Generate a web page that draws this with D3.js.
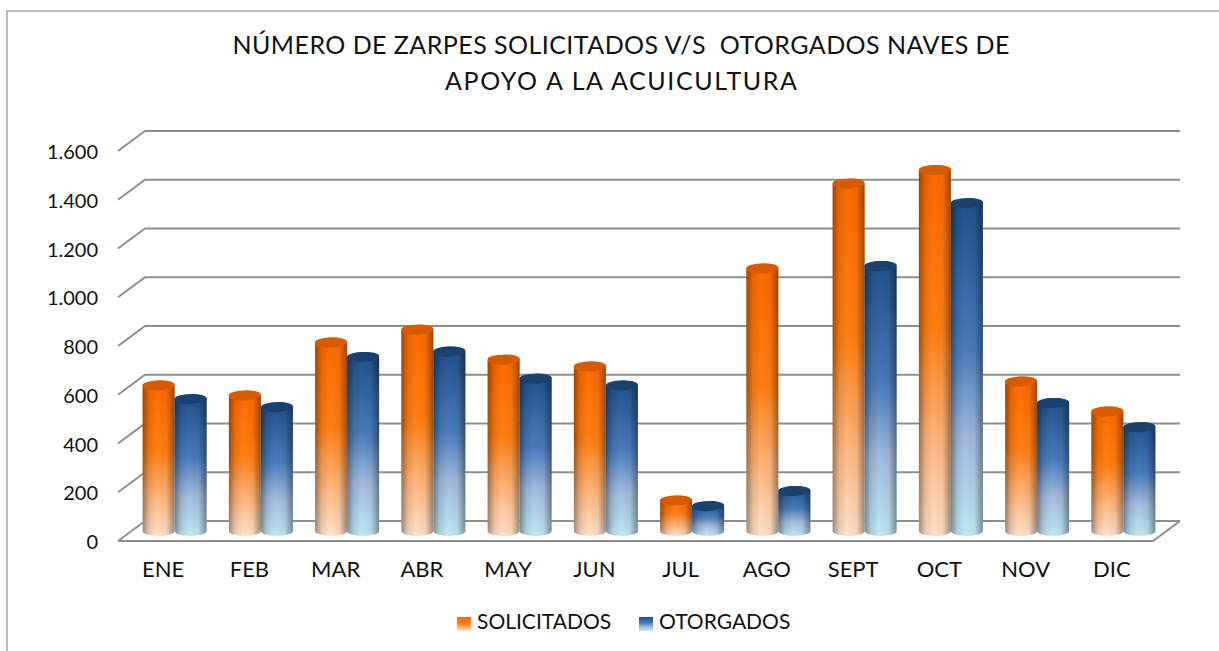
<!DOCTYPE html>
<meta charset="utf-8">
<script src="https://d3js.org/d3.v7.min.js"></script>
<style>
  html, body { margin: 0; padding: 0; background: #fff; }
  text { font-family: Lato, sans-serif; fill: #111; }
</style>
<div id="my_dataviz"></div>
<script>
  // values
  var months = ["ENE", "FEB", "MAR", "ABR", "MAY", "JUN", "JUL", "AGO", "SEPT", "OCT", "NOV", "DIC"];
  var solicitados = [597, 556, 773, 826, 703, 675, 125, 1077, 1425, 1481, 613, 490];
  var otorgados = [541, 508, 714, 736, 625, 597, 102, 164, 1087, 1345, 525, 426];
  var ticks = [0, 200, 400, 600, 800, 1000, 1200, 1400, 1600];
  var titleLines = ["NÚMERO DE ZARPES SOLICITADOS V/S  OTORGADOS NAVES DE", "APOYO A LA ACUICULTURA"];
  var titleWidths = [777, 352];
  var seriesNames = ["SOLICITADOS", "OTORGADOS"];

  var width = 1219, height = 651;
  var depthX = 27, depthY = 20;   // offset of the back wall from the front of the floor

  var svg = d3.select("#my_dataviz").append("svg")
      .attr("width", width)
      .attr("height", height)
      .style("display", "block");

  var defs = svg.append("defs");

  function vertical(id, stops) {
    var g = defs.append("linearGradient").attr("id", id)
        .attr("x1", 0).attr("y1", 0).attr("x2", 0).attr("y2", 1);
    stops.forEach(function(s) {
      g.append("stop").attr("offset", s[0]).attr("stop-color", s[1]);
    });
  }
  vertical("grad0", [[0, "#ff6a00"], [0.45, "#ff7f14"], [0.75, "#ffb77e"], [1, "#ffe2cb"]]);
  vertical("grad1", [[0, "#1f4f87"], [0.45, "#4a7dbd"], [0.72, "#a5bcdf"], [1, "#bfe9f3"]]);

  // dark edges of the cylinder
  var shade = defs.append("linearGradient").attr("id", "shade")
      .attr("x1", 0).attr("y1", 0).attr("x2", 1).attr("y2", 0);
  [[0, 0.38], [0.2, 0.1], [0.45, 0], [0.75, 0.05], [1, 0.38]].forEach(function(s) {
    shade.append("stop").attr("offset", s[0]).attr("stop-color", "#000").attr("stop-opacity", s[1]);
  });

  defs.append("filter").attr("id", "soft").append("feGaussianBlur").attr("stdDeviation", 0.5);

  // frame
  svg.append("path")
      .attr("d", "M7,651V11H1219")
      .attr("fill", "none")
      .attr("stroke", "#a6a6a6")
      .attr("stroke-width", 1.5);

  var x = d3.scaleBand().domain(months).range([118, 1153]);
  var xs = d3.scaleBand().domain([0, 1]).range([0, 64]);
  var y = d3.scaleLinear().domain([0, 1600]).range([541, 151]);

  // walls and floor
  var grid = svg.append("g")
      .attr("fill", "none")
      .attr("stroke", "#8e8e8e")
      .attr("stroke-width", 2)
      .attr("filter", "url(#soft)");

  grid.selectAll("path")
    .data(ticks)
    .enter()
    .append("path")
      .attr("d", function(d) {
        return "M118," + y(d) + "L" + (118 + depthX) + "," + (y(d) - depthY) + "H" + (1153 + depthX);
      });
  grid.append("path")
      .attr("d", "M118," + y(0) + "H1153L" + (1153 + depthX) + "," + (y(0) - depthY));

  // value labels
  svg.append("g").selectAll("text")
    .data(ticks)
    .enter()
    .append("text")
      .attr("x", 98)
      .attr("y", function(d) { return y(d) + 8; })
      .attr("text-anchor", "end")
      .style("font-size", "20px")
      .text(function(d) { return d3.format(",")(d).replace(",", "."); });

  // month labels
  svg.append("g").selectAll("text")
    .data(months)
    .enter()
    .append("text")
      .attr("x", function(d) { return x(d) + x.bandwidth() / 2 + 2; })
      .attr("y", 577)
      .attr("text-anchor", "middle")
      .style("font-size", "22px")
      .text(function(d) { return d; });

  // cylinders
  var base = y(0) - depthY / 2;
  var rx = xs.bandwidth() / 2, ry = 5;

  function cylinder(g, cx, value, s) {
    var top = base - (y(0) - y(value));
    var outline = "M" + (cx - rx) + "," + top + "V" + base +
        "A" + rx + "," + ry + " 0 0 0 " + (cx + rx) + "," + base +
        "V" + top + "A" + rx + "," + ry + " 0 0 0 " + (cx - rx) + "," + top + "Z";
    g.append("path").attr("d", outline).attr("fill", "url(#grad" + s + ")");
    g.append("path").attr("d", outline).attr("fill", "url(#shade)");
    g.append("ellipse")
        .attr("cx", cx)
        .attr("cy", top)
        .attr("rx", rx)
        .attr("ry", ry)
        .attr("transform", "rotate(-3 " + cx + " " + top + ")")
        .attr("fill", s == 0 ? "#d65a02" : "#1b416f");
  }

  var bars = svg.append("g");
  months.forEach(function(m, i) {
    var left = x(m) + x.bandwidth() / 2 + depthX / 2 - 32;
    cylinder(bars, left + xs(0) + rx, solicitados[i], 0);
    cylinder(bars, left + xs(1) + rx, otorgados[i], 1);
  });

  // title
  svg.append("g").selectAll("text")
    .data(titleLines)
    .enter()
    .append("text")
      .attr("x", 621)
      .attr("y", function(d, i) { return 54 + i * 36; })
      .attr("text-anchor", "middle")
      .attr("xml:space", "preserve")
      .attr("textLength", function(d, i) { return titleWidths[i]; })
      .attr("lengthAdjust", "spacing")
      .style("font-size", "25px")
      .text(function(d) { return d; });

  // legend
  var legendX = [457, 639];
  var legend = svg.append("g").selectAll("g")
    .data(seriesNames)
    .enter()
    .append("g")
      .attr("transform", function(d, i) { return "translate(" + legendX[i] + ",617)"; });
  legend.append("rect")
      .attr("width", 14)
      .attr("height", 14)
      .attr("fill", function(d, i) { return "url(#grad" + i + ")"; });
  legend.append("text")
      .attr("x", 20)
      .attr("y", 12)
      .style("font-size", "21px")
      .text(function(d) { return d; });
</script>
